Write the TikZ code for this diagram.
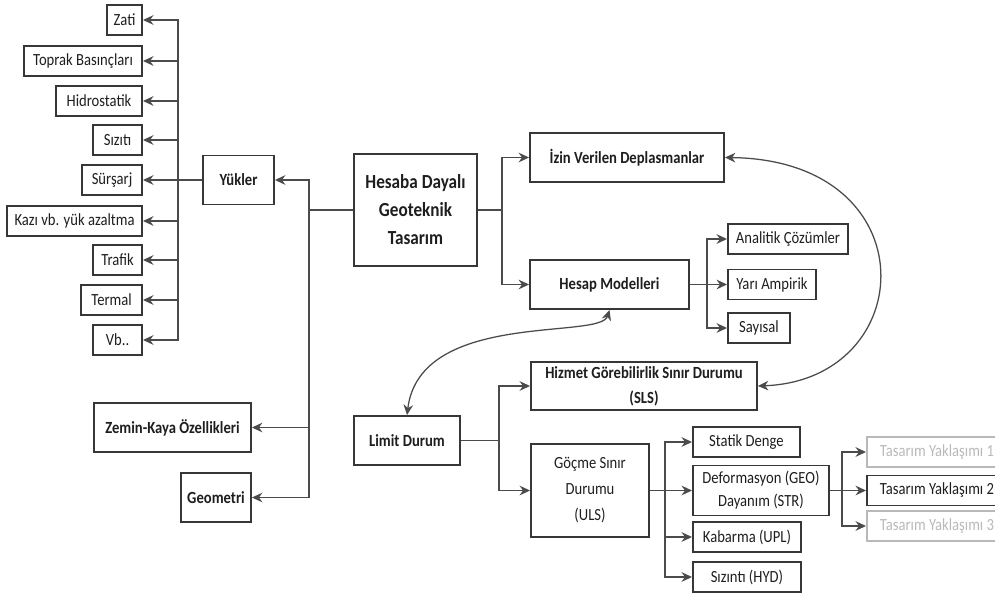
\documentclass[tikz,border=0pt]{standalone}
\usepackage{fontspec}
\setmainfont{Carlito}[FakeStretch=0.86]
\usetikzlibrary{arrows.meta}
\definecolor{kenar}{RGB}{55,55,55}
\definecolor{hatrenk}{RGB}{75,75,75}
\definecolor{yazi}{RGB}{30,30,30}
\definecolor{soluk}{RGB}{185,185,185}
\newdimen\birim
\birim=0.025cm
\tikzset{
  kutu/.style={draw=kenar, line width=1.35pt, text=yazi, inner sep=1pt, align=center,
    font=\fontsize{12.1}{16.5}\selectfont},
  kalin/.style={kutu, font=\fontsize{12.1}{17.8}\selectfont\bfseries},
  kucuk/.style={minimum height=30*\birim},
  buyuk/.style={minimum height=49*\birim},
  cizgi/.style={draw=hatrenk, line width=1.3pt},
  ok/.style={cizgi, -{Stealth[length=2.6mm,width=2.4mm]}},
  egri/.style={draw=hatrenk, line width=0.9pt,
    {Stealth[length=2.6mm,width=2.4mm]}-{Stealth[length=2.6mm,width=2.4mm]}},
}
\begin{document}
\begin{tikzpicture}[x=0.025cm,y=-0.025cm]
  \useasboundingbox (0,0) rectangle (995,594);
  % yukler
  \node[kutu, kucuk, anchor=east, minimum width=35*\birim] (zati) at (143,20) {Zati};
  \node[kutu, kucuk, anchor=east, minimum width=118*\birim] (toprak) at (143,61) {Toprak Basınçları};
  \node[kutu, kucuk, anchor=east, minimum width=86*\birim] (hidro) at (143,101) {Hidrostatik};
  \node[kutu, kucuk, anchor=east, minimum width=49*\birim] (sizti) at (143,140) {Sızıtı};
  \node[kutu, kucuk, anchor=east, minimum width=60*\birim] (sursarj) at (143,180) {Sürşarj};
  \node[kutu, kucuk, anchor=east, minimum width=135*\birim] (kazi) at (143,221) {Kazı vb. yük azaltma};
  \node[kutu, kucuk, anchor=east, minimum width=49*\birim] (trafik) at (143,260) {Trafik};
  \node[kutu, kucuk, anchor=east, minimum width=61*\birim] (termal) at (143,300) {Termal};
  \node[kutu, kucuk, anchor=east, minimum width=49*\birim] (vb) at (143,340) {Vb..};
  \node[kalin, buyuk, minimum width=71*\birim] (yukler) at (238.5,180) {Yükler};
  \node[kalin, buyuk, minimum width=157*\birim] (zemin) at (172.5,427.5) {Zemin-Kaya Özellikleri};
  \node[kalin, buyuk, minimum width=70*\birim] (geometri) at (216,497.5) {Geometri};
  % ana kutu
  \node[kalin, minimum width=123*\birim, minimum height=112*\birim,
    font=\fontsize{14.2}{19.9}\selectfont\bfseries] (hesaba) at (415.5,210)
    {Hesaba Dayalı\\Geoteknik\\Tasarım};
  \node[kalin, buyuk, minimum width=194*\birim] (izin) at (627,157.5) {İzin Verilen Deplasmanlar};
  \node[kalin, buyuk, minimum width=159*\birim] (hesap) at (609.5,284.5) {Hesap Modelleri};
  \node[kutu, kucuk, anchor=west, minimum width=120*\birim] (analitik) at (727,239) {Analitik Çözümler};
  \node[kutu, kucuk, anchor=west, minimum width=88*\birim] (yari) at (727,284.5) {Yarı Ampirik};
  \node[kutu, kucuk, anchor=west, minimum width=62*\birim] (sayisal) at (727,328) {Sayısal};
  % limit durum
  \node[kalin, minimum width=226*\birim, minimum height=48*\birim] (hizmet) at (644,386)
    {Hizmet Görebilirlik Sınır Durumu\\(SLS)};
  \node[kalin, buyuk, minimum width=106*\birim] (limit) at (407,440.5) {Limit Durum};
  \node[kutu, minimum width=118*\birim, minimum height=93*\birim,
    font=\fontsize{12.1}{18.5}\selectfont] (gocme) at (590,490.5) {Göçme Sınır\\Durumu\\(ULS)};
  \node[kutu, kucuk, anchor=west, minimum width=107*\birim] (statik) at (692,442) {Statik Denge};
  \node[kutu, anchor=west, minimum width=136*\birim, minimum height=50*\birim] (deform) at (692,490.5)
    {Deformasyon (GEO)\\Dayanım (STR)};
  \node[kutu, kucuk, anchor=west, minimum width=108*\birim] (kabarma) at (692,537) {Kabarma (UPL)};
  \node[kutu, kucuk, anchor=west, minimum width=108*\birim] (sizinti) at (692,577) {Sızıntı (HYD)};
  \node[kutu, kucuk, anchor=west, minimum width=140*\birim, draw=soluk, text=soluk] (ty1) at (866,452) {Tasarım Yaklaşımı 1};
  \node[kutu, kucuk, anchor=west, minimum width=140*\birim] (ty2) at (866,490.5) {Tasarım Yaklaşımı 2};
  \node[kutu, kucuk, anchor=west, minimum width=140*\birim, draw=soluk, text=soluk] (ty3) at (866,526) {Tasarım Yaklaşımı 3};
  % baglantilar
  \coordinate (ys) at (178,180);
  \draw[cizgi] (yukler.west) -- (ys);
  \draw[ok] (ys) |- (zati.east);
  \draw[ok] (ys) |- (toprak.east);
  \draw[ok] (ys) |- (hidro.east);
  \draw[ok] (ys) |- (sizti.east);
  \draw[ok] (ys) |- (sursarj.east);
  \draw[ok] (ys) |- (kazi.east);
  \draw[ok] (ys) |- (trafik.east);
  \draw[ok] (ys) |- (termal.east);
  \draw[ok] (ys) |- (vb.east);
  \coordinate (ms) at (309,210);
  \draw[cizgi] (hesaba.west) -- (ms);
  \draw[ok] (ms) |- (yukler.east);
  \draw[ok] (ms) |- (zemin.east);
  \draw[ok] (ms) |- (geometri.east);
  \coordinate (hs) at (502,210);
  \draw[cizgi] (hesaba.east) -- (hs);
  \draw[ok] (hs) |- (izin.west);
  \draw[ok] (hs) |- (hesap.west);
  \coordinate (as) at (707,284.5);
  \draw[cizgi] (hesap.east) -- (as);
  \draw[ok] (as) |- (analitik.west);
  \draw[ok] (as) |- (yari.west);
  \draw[ok] (as) |- (sayisal.west);
  \coordinate (ls) at (499,440.5);
  \draw[cizgi] (limit.east) -- (ls);
  \draw[ok] (ls) |- (hizmet.west);
  \draw[ok] (ls) |- (gocme.west);
  \coordinate (gs) at (665,490.5);
  \draw[cizgi] (gocme.east) -- (gs);
  \draw[ok] (gs) |- (statik.west);
  \draw[ok] (gs) |- (deform.west);
  \draw[ok] (gs) |- (kabarma.west);
  \draw[ok] (gs) |- (sizinti.west);
  \coordinate (ds) at (842,490.5);
  \draw[cizgi] (deform.east) -- (ds);
  \draw[ok] (ds) |- (ty1.west);
  \draw[ok] (ds) |- (ty2.west);
  \draw[ok] (ds) |- (ty3.west);
  % egriler
  \draw[egri] (izin.east) .. controls (930,160) and (920,380) .. (hizmet.east);
  \draw[egri] (hesap.south) .. controls (600,340) and (420,310) .. (limit.north);
\end{tikzpicture}
\end{document}
